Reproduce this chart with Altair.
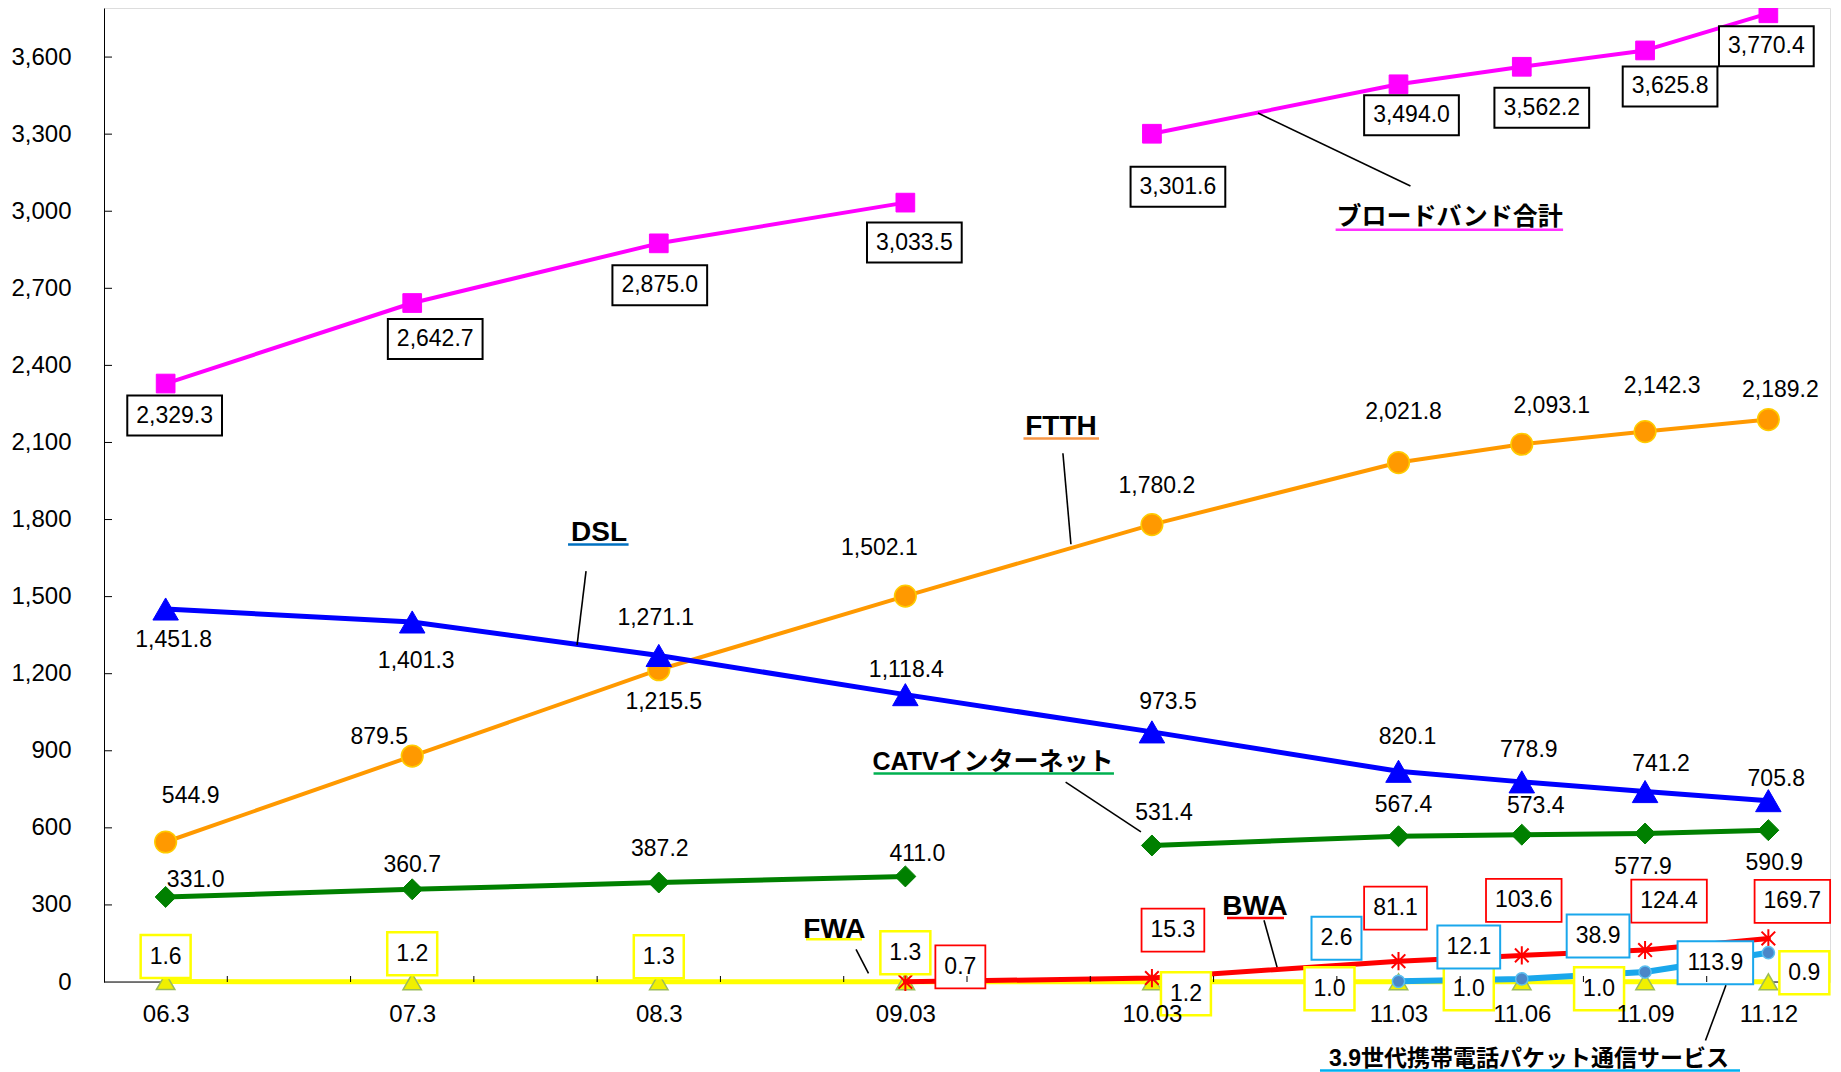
import altair as alt
import pandas as pd

# ---------------- data ----------------
categories = ["06.3", "", "07.3", "", "08.3", "", "09.03", "", "10.03", "",
              "11.03", "11.06", "11.09", "11.12"]
obs_idx = [0, 2, 4, 6, 8, 10, 11, 12, 13]

total = [2329.3, 2642.7, 2875.0, 3033.5, 3301.6, 3494.0, 3562.2, 3625.8, 3770.4]
ftth = [544.9, 879.5, 1215.5, 1502.1, 1780.2, 2021.8, 2093.1, 2142.3, 2189.2]
dsl = [1451.8, 1401.3, 1271.1, 1118.4, 973.5, 820.1, 778.9, 741.2, 705.8]
catv = [331.0, 360.7, 387.2, 411.0, 531.4, 567.4, 573.4, 577.9, 590.9]
fwa = [1.6, 1.2, 1.3, 1.3, 1.2, 1.0, 1.0, 1.0, 0.9]
bwa = [None, None, None, 0.7, 15.3, 81.1, 103.6, 124.4, 169.7]
lte = [None, None, None, None, None, 2.6, 12.1, 38.9, 113.9]

y_ticks = [0, 300, 600, 900, 1200, 1500, 1800, 2100, 2400, 2700, 3000, 3300, 3600]

# label offsets from each point (pixels: right, down)
total_off = [(9, 32), (23, 36), (1, 42), (9, 40), (26, 53), (13, 31), (20, 41), (25, 36), (-2, 33)]
ftth_off = [(25, -46), (-33, -19), (5, 32), (-26, -48), (5, -39), (5, -51), (30, -38), (17, -46), (12, -30)]
dsl_off = [(8, 31), (4, 39), (-3, -37), (1, -25), (16, -30), (9, -34), (7, -32), (16, -28), (8, -22)]
catv_off = [(30, -17), (0, -24), (1, -34), (12, -22), (12, -32), (5, -31), (14, -29), (-2, 33), (6, 33)]
fwa_off = [(0, -25), (0, -28), (0, -25), (0, -29), (34, 12), (-69, 7), (-53, 7), (-46, 7), (36, -9)]
bwa_off = [None, None, None, (55, -15), (21, -48), (-3, -53), (2, -55), (24, -49), (24, -37)]
lte_off = [None, None, None, None, None, (-62, -43), (-53, -32), (-47, -36), (-53, 10)]

# series annotations (data coordinates)
ann_text = ["ブロードバンド合計", "FTTH", "DSL", "CATVインターネット", "FWA", "BWA",
            "3.9世代携帯電話パケット通信サービス"]
ann_x = [10.415, 7.262, 3.515, 6.711, 5.425, 8.836, 11.058]
ann_y = [2977, 2162, 1746, 856, 201, 292, -301]
ann_fs = [25, 28, 28, 25, 28, 28, 23]
ann_ul_x = [9.49, 6.958, 3.264, 5.742, 5.194, 8.609, 9.363]
ann_ul_x2 = [11.335, 7.571, 3.755, 7.692, 5.648, 9.071, 12.770]
ann_ul_y = [2928, 2115, 1703, 812, 166, 249, -344]
ann_ul_color = ["#FF33FF", "#F79646", "#0070C0", "#00B050", "#FFFF00", "#FF0000", "#00B0F0"]
lead_x = [8.86, 7.278, 3.410, 7.300, 5.600, 8.909, 12.490]
lead_y = [3382, 2058, 1599, 778, 127, 240, -228]
lead_x2 = [10.097, 7.343, 3.337, 7.911, 5.701, 9.015, 12.656]
lead_y2 = [3098, 1704, 1311, 584, 34, 58, -13]

# ---------------- layout ----------------
W, H = 1726, 974
XMIN, XMAX = -0.5, 13.5
YMAX = 3791
PXI = W / (XMAX - XMIN)
PXU = H / YMAX
FONT = "Liberation Sans, Arial, Noto Sans CJK JP"
LFS = 23

xs = alt.Scale(domain=[XMIN, XMAX], nice=False, zero=False)
ys = alt.Scale(domain=[0, YMAX], nice=False, zero=False)

label_arr = "[" + ",".join("'%s'" % c for c in categories) + "]"
XAXIS = alt.Axis(values=obs_idx, labelExpr=label_arr + "[datum.value]", title=None,
                 ticks=False, tickSize=0, grid=False, domain=False,
                 labelFontSize=24, labelFont=FONT, labelColor="#000000",
                 labelPadding=20, labelFlush=False, zindex=1)
YAXIS = alt.Axis(values=y_ticks, format=",d", title=None, ticks=False, tickSize=0,
                 grid=False, domainColor="#000000", labelFontSize=24, labelFont=FONT,
                 labelColor="#000000", labelPadding=33)


def X(f):
    return alt.X(f, type="quantitative", scale=xs, axis=XAXIS)


def Y(f):
    return alt.Y(f, type="quantitative", scale=ys, axis=YAXIS)


def tw(s, fs):
    return sum((0.278 if c in ".," else 0.556) for c in s) * fs


series = [
    dict(vals=total, brk=True, off=total_off, lc="#FF00FF", lw=4,
         pt=dict(shape="square", size=350, fill="#FF00FF", stroke="#FF00FF", strokeWidth=1),
         box="#000000", bh=40, bsw=2),
    dict(vals=ftth, brk=False, off=ftth_off, lc="#FF9900", lw=4,
         pt=dict(shape="circle", size=470, fill="#FF9900", stroke="#FFCC00", strokeWidth=1.5),
         box=None),
    dict(vals=dsl, brk=False, off=dsl_off, lc="#0000FF", lw=5,
         pt=dict(shape="triangle-up", size=650, fill="#0000FF", stroke="#0000FF", strokeWidth=1),
         box=None),
    dict(vals=catv, brk=True, off=catv_off, lc="#008000", lw=5,
         pt=dict(shape="diamond", size=440, fill="#008000", stroke="#008000", strokeWidth=1),
         box=None),
    dict(vals=fwa, brk=False, off=fwa_off, lc="#FFFF00", lw=5,
         pt=dict(shape="triangle-up", size=340, fill="#F0F000", stroke="#9BBB59", strokeWidth=1.5),
         box="#FFFF00", bh=43, bsw=2.5),
    dict(vals=bwa, brk=False, off=bwa_off, lc="#FF0000", lw=5,
         pt=dict(shape="M0,-1L0,1M-0.75,-0.75L0.75,0.75M-0.75,0.75L0.75,-0.75", size=330,
                 filled=False, stroke="#FF0000", strokeWidth=2),
         box="#FF0000", bh=43, bsw=1.8),
    dict(vals=lte, brk=False, off=lte_off, lc="#1AA7EC", lw=6,
         pt=dict(shape="circle", size=150, fill="#4A86C8", stroke="#5BC0F0", strokeWidth=1.5),
         box="#1AA7EC", bh=43, bsw=2),
]

# x-axis baseline, drawn beneath the series
base = alt.Chart(pd.DataFrame(dict(a=[XMIN], b=[XMAX], z=[0]))).mark_rule(
    color="#000000", strokeWidth=1.2).encode(x=X("a"), x2="b:Q", y=Y("z"))

layers = [base]
box_rows, txt_rows = [], []
for s in series:
    rows = []
    for k, v, o in zip(obs_idx, s["vals"], s["off"]):
        if v is None:
            continue
        seg = (1 if k >= 8 else 0) if s["brk"] else 0
        rows.append(dict(x=k, y=v, seg=seg))
        txt = f"{v:,.1f}"
        lx = k + o[0] / PXI
        ly = v - o[1] / PXU
        txt_rows.append(dict(x=lx, y=ly, t=txt))
        if s["box"]:
            bw = tw(txt, LFS) + 18
            box_rows.append(dict(x=k + (o[0] - bw / 2) / PXI, x2=k + (o[0] + bw / 2) / PXI,
                                 y=ly + s["bh"] / 2 / PXU, y2=ly - s["bh"] / 2 / PXU,
                                 c=s["box"], w=s["bsw"]))
    df = pd.DataFrame(rows)
    line = alt.Chart(df).mark_line(color=s["lc"], strokeWidth=s["lw"], strokeCap="round",
                                   strokeJoin="round").encode(
        x=X("x"), y=Y("y"), detail="seg:N", order="x:Q")
    pt_kw = dict(s["pt"])
    filled = pt_kw.pop("filled", True)
    pts = alt.Chart(df).mark_point(filled=filled, opacity=1, **pt_kw).encode(x=X("x"), y=Y("y"))
    layers += [line, pts]

boxes = alt.Chart(pd.DataFrame(box_rows)).mark_rect(fill="#FFFFFF").encode(
    x=X("x"), x2="x2", y=Y("y"), y2="y2",
    stroke=alt.Stroke("c:N", scale=None), strokeWidth=alt.StrokeWidth("w:Q", scale=None))
texts = alt.Chart(pd.DataFrame(txt_rows)).mark_text(
    font=FONT, fontSize=LFS, color="#000000", align="center", baseline="middle").encode(
    x=X("x"), y=Y("y"), text="t:N")

ann = pd.DataFrame(dict(x=ann_x, y=ann_y, t=ann_text, fs=ann_fs, ux=ann_ul_x, ux2=ann_ul_x2,
                        uy=ann_ul_y, uc=ann_ul_color, lx=lead_x, ly=lead_y, lx2=lead_x2, ly2=lead_y2))
ann_text_layer = alt.Chart(ann).mark_text(
    font=FONT, fontWeight="bold", color="#000000", align="center", baseline="middle").encode(
    x=X("x"), y=Y("y"), text="t:N", size=alt.Size("fs:Q", scale=None))
ann_ul = alt.Chart(ann).mark_rule(strokeWidth=2.5).encode(
    x=X("ux"), x2="ux2", y=Y("uy"), color=alt.Color("uc:N", scale=None))
ann_lead = alt.Chart(ann).mark_rule(strokeWidth=1.6, color="#000000").encode(
    x=X("lx"), x2="lx2", y=Y("ly"), y2="ly2")

# inward tick marks
yt = pd.DataFrame(dict(v=y_ticks[1:]))
ytick = alt.Chart(yt).mark_rule(color="#000000", strokeWidth=1).encode(
    x=alt.X("a:Q", scale=xs, axis=XAXIS), x2="b:Q", y=Y("v")).transform_calculate(
    a=str(XMIN), b=f"{XMIN} + {8 / PXI}")
xt = pd.DataFrame(dict(k=[i + 0.5 for i in range(len(categories) - 1)]))
xtick = alt.Chart(xt).mark_rule(color="#000000", strokeWidth=1).encode(
    x=X("k"), y=alt.Y("a:Q", scale=ys, axis=YAXIS), y2="b:Q").transform_calculate(
    a="0", b=str(6 / PXU))

chart = alt.layer(*layers, boxes, texts, ann_ul, ann_lead, ann_text_layer, ytick, xtick).properties(
    width=W, height=H,
    autosize=alt.AutoSizeParams(type="none"),
    padding={"left": 96, "top": 0, "right": 3, "bottom": 90},
).configure_view(stroke="#888888", strokeWidth=1.2).configure(background="#FFFFFF")

chart.save("out.html", embed_options={"renderer": "svg", "actions": False})
